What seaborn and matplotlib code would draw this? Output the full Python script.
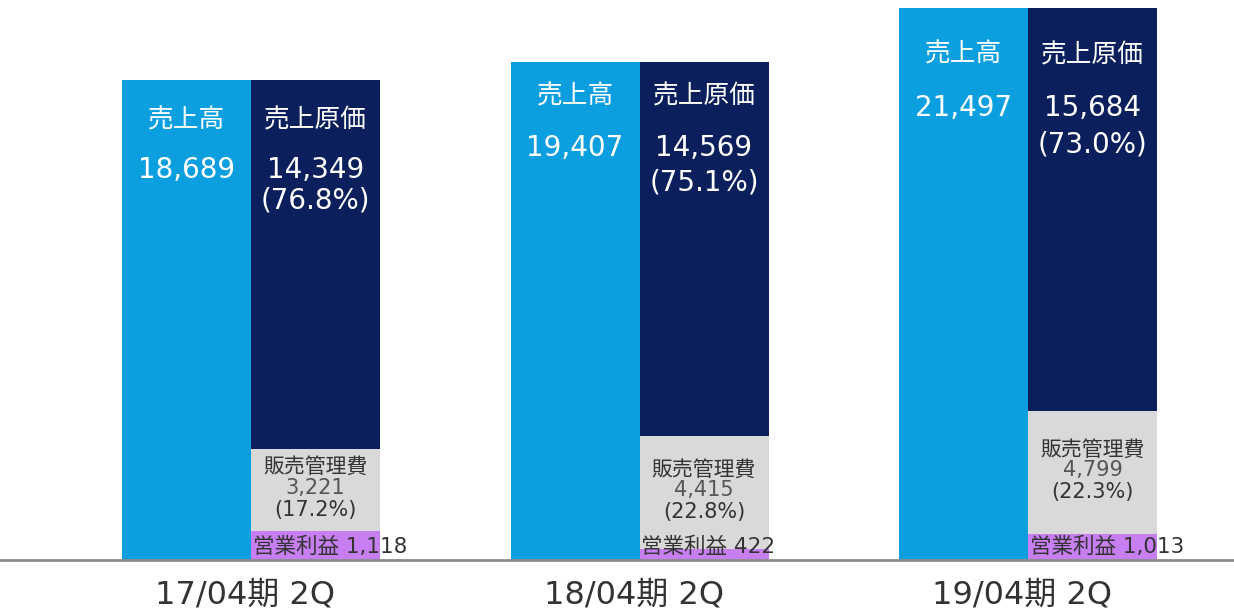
import numpy as np
import pandas as pd
import matplotlib
matplotlib.use("Agg")
import matplotlib.pyplot as plt
import seaborn as sns

# Data (百万円)
periods = ["17/04期 2Q", "18/04期 2Q", "19/04期 2Q"]
sales = [18689, 19407, 21497]
cogs = [14349, 14569, 15684]
cogs_pct = [76.8, 75.1, 73.0]
sga = [3221, 4415, 4799]
sga_pct = [17.2, 22.8, 22.3]
op_profit = [1118, 422, 1013]

# Colours
C_SALES = "#0c9fe0"
C_COGS = "#0b1f5c"
C_SGA = "#d9d9d9"
C_OP = "#c77ef0"
C_TEXT = "#333333"

# label offsets below bar tops (pixels), per group
lab_off = [40, 35, 47]
num_off = [90, 86, 100]
pct_off = [120, 121, 137]

sns.set_theme(style="white")
plt.rcParams["font.family"] = ["DejaVu Sans", "Noto Sans CJK JP"]

pos = np.arange(len(periods))
bw = 0.332
df = pd.DataFrame({
    "pos": pos,
    "sales": sales,
    "total": np.array(cogs) + np.array(sga) + np.array(op_profit),
    "sga_op": np.array(sga) + np.array(op_profit),
    "op": op_profit,
})

fig = plt.figure(figsize=(12.34, 6.11), dpi=100)
ax = fig.add_axes([0, 51 / 611, 1, 560 / 611])

# sales bars (left), stacked cost bars (right) drawn back to front
df["pos_l"] = df["pos"] - bw / 2
df["pos_r"] = df["pos"] + bw / 2
sns.barplot(data=df, x="pos_l", y="sales", native_scale=True, width=bw,
            color=C_SALES, saturation=1, errorbar=None, linewidth=0, ax=ax)
for col, c in [("total", C_COGS), ("sga_op", C_SGA), ("op", C_OP)]:
    sns.barplot(data=df, x="pos_r", y=col, native_scale=True, width=bw,
                color=c, saturation=1, errorbar=None, linewidth=0, ax=ax)

ax.set_xlim(-0.646, 2.53)
ax.set_ylim(0, 21807)
for s in ["top", "right", "left"]:
    ax.spines[s].set_visible(False)
ax.spines["bottom"].set_color("#8c8c8c")
ax.spines["bottom"].set_linewidth(2)
ax.set_xticks(pos - 0.015)
ax.set_xticklabels(periods, fontsize=23, color=C_TEXT)
ax.tick_params(axis="x", length=0, pad=14)
ax.set_yticks([])
ax.set_xlabel("")
ax.set_ylabel("")

px = 21807 / 560  # data units per pixel

for i in pos:
    xl = i - bw / 2
    xr = i + bw / 2
    top_s = sales[i]
    top_c = cogs[i] + sga[i] + op_profit[i]
    # sales
    ax.text(xl, top_s - lab_off[i] * px, "売上高", ha="center", va="center",
            color="white", fontsize=18.5)
    ax.text(xl, top_s - num_off[i] * px, f"{sales[i]:,}", ha="center",
            va="center", color="white", fontsize=20)
    # cogs
    ax.text(xr, top_c - lab_off[i] * px, "売上原価", ha="center",
            va="center", color="white", fontsize=18.5)
    ax.text(xr, top_c - num_off[i] * px, f"{cogs[i]:,}", ha="center",
            va="center", color="white", fontsize=20)
    ax.text(xr, top_c - pct_off[i] * px, f"({cogs_pct[i]:.1f}%)", ha="center",
            va="center", color="white", fontsize=20)
    # sga
    mid = op_profit[i] + sga[i] / 2
    ax.text(xr, mid + 23 * px, "販売管理費", ha="center", va="center",
            color=C_TEXT, fontsize=15)
    ax.text(xr, mid + 2 * px, f"{sga[i]:,}", ha="center", va="center",
            color="#555555", fontsize=15)
    ax.text(xr, mid - 20 * px, f"({sga_pct[i]:.1f}%)", ha="center",
            va="center", color=C_TEXT, fontsize=15)
    # operating profit
    ax.text(i + 0.005, 13 * px, f"営業利益 {op_profit[i]:,}", ha="left",
            va="center", color=C_TEXT, fontsize=15.5)

fig.savefig("out.png", dpi=100)
